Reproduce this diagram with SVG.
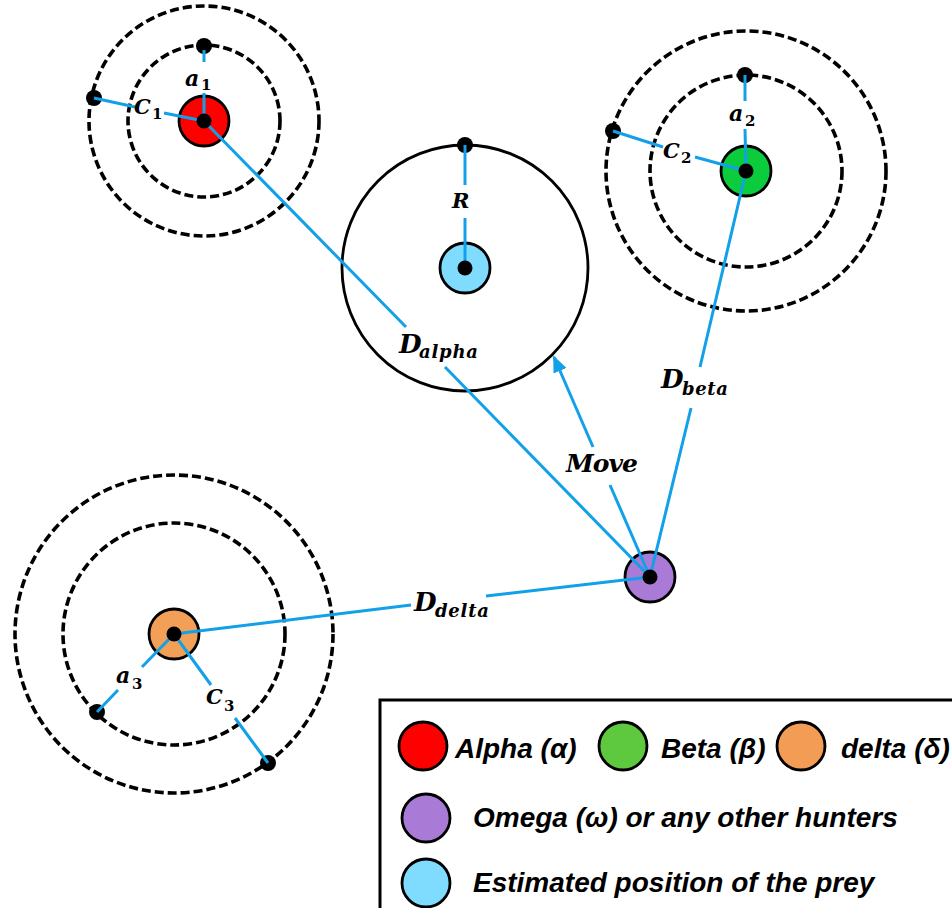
<svg xmlns="http://www.w3.org/2000/svg" width="952" height="908" viewBox="0 0 952 908">
<defs>
<style>
.dash{fill:none;stroke:#000;stroke-width:3.6;stroke-dasharray:9 4}
.ring{fill:none;stroke:#000;stroke-width:2.8}
.body{stroke:#000;stroke-width:2.8}
.pin{fill:#000}
.ln{stroke:#12a0e8;stroke-width:3;fill:none}
.m{font-family:"DejaVu Serif","Liberation Serif",serif;font-weight:bold;font-style:italic;fill:#000}
.n{font-family:"DejaVu Serif","Liberation Serif",serif;font-weight:bold;font-style:normal}
.lg{font-family:"Liberation Sans",Arial,sans-serif;font-weight:bold;font-style:italic;font-size:28px;fill:#000}
</style>
<marker id="ah" markerUnits="userSpaceOnUse" markerWidth="18" markerHeight="14" refX="15" refY="7" orient="auto">
<path d="M0,0 L17,7 L0,14 z" fill="#12a0e8"/>
</marker>
</defs>
<rect width="952" height="908" fill="#fff"/>

<g id="alpha">
<circle class="dash" cx="204" cy="121" r="115"/>
<circle class="dash" cx="204" cy="121" r="76"/>
<circle class="body" cx="204" cy="121" r="25" fill="#ff0000"/>
<circle class="pin" cx="204" cy="46" r="8"/>
<circle class="pin" cx="94" cy="98" r="8"/>
</g>

<g id="beta">
<circle class="dash" cx="746" cy="171" r="140"/>
<circle class="dash" cx="746" cy="171" r="96"/>
<circle class="body" cx="746" cy="171" r="25" fill="#0bcc3c"/>
<circle class="pin" cx="745" cy="75" r="8"/>
<circle class="pin" cx="613" cy="131" r="8"/>
</g>

<g id="prey">
<circle class="ring" cx="465" cy="268" r="123"/>
<circle class="body" cx="465" cy="268" r="25" fill="#7fdcff"/>
<circle class="pin" cx="465" cy="145" r="8"/>
</g>

<g id="delta">
<circle class="dash" cx="174" cy="634" r="159"/>
<circle class="dash" cx="174" cy="634" r="111"/>
<circle class="body" cx="174" cy="634" r="25" fill="#f2a057"/>
<circle class="pin" cx="97" cy="712" r="8"/>
<circle class="pin" cx="268" cy="763" r="8"/>
</g>

<g id="omega">
<circle class="body" cx="650" cy="577" r="25" fill="#a97bd6"/>
</g>

<g id="connectors">
<line class="ln" x1="204" y1="50" x2="204" y2="62"/>
<line class="ln" x1="204" y1="93" x2="204" y2="121"/>
<line class="ln" x1="94" y1="98" x2="135" y2="107"/>
<line class="ln" x1="164" y1="113" x2="204" y2="121"/>
<line class="ln" x1="745" y1="75" x2="745" y2="101"/>
<line class="ln" x1="745" y1="129" x2="746" y2="171"/>
<line class="ln" x1="613" y1="131" x2="663" y2="147"/>
<line class="ln" x1="695" y1="157" x2="746" y2="171"/>
<line class="ln" x1="465" y1="145" x2="465" y2="185"/>
<line class="ln" x1="465" y1="218" x2="465" y2="268"/>
<line class="ln" x1="174" y1="634" x2="142" y2="667"/>
<line class="ln" x1="118" y1="690" x2="97" y2="712"/>
<line class="ln" x1="174" y1="634" x2="211" y2="685"/>
<line class="ln" x1="235" y1="718" x2="268" y2="763"/>
<line class="ln" x1="204" y1="121" x2="406" y2="327"/>
<line class="ln" x1="445" y1="367" x2="650" y2="577"/>
<line class="ln" x1="746" y1="171" x2="700" y2="367"/>
<line class="ln" x1="691" y1="408" x2="650" y2="577"/>
<line class="ln" x1="174" y1="634" x2="411" y2="605"/>
<line class="ln" x1="486" y1="596" x2="650" y2="577"/>
<line class="ln" x1="650" y1="577" x2="610" y2="485"/>
<line class="ln" x1="593" y1="447" x2="554" y2="357" marker-end="url(#ah)"/>
</g>

<g id="hubs">
<circle class="pin" cx="204" cy="121" r="7.5"/>
<circle class="pin" cx="746" cy="171" r="7.5"/>
<circle class="pin" cx="465" cy="268" r="7.5"/>
<circle class="pin" cx="174" cy="634" r="7.5"/>
<circle class="pin" cx="650" cy="577" r="7.5"/>
</g>

<g id="labels">
<text class="m" font-size="22"><tspan x="185" y="86">a</tspan><tspan class="n" x="201" y="90" font-size="15">1</tspan></text>
<text class="m" font-size="21"><tspan x="134" y="114">C</tspan><tspan class="n" x="152" y="119" font-size="15">1</tspan></text>
<text class="m" font-size="22"><tspan x="729" y="121">a</tspan><tspan class="n" x="745" y="126" font-size="15">2</tspan></text>
<text class="m" font-size="21"><tspan x="663" y="158">C</tspan><tspan class="n" x="681" y="163" font-size="15">2</tspan></text>
<text class="m" font-size="22"><tspan x="116" y="683">a</tspan><tspan class="n" x="132" y="689" font-size="15">3</tspan></text>
<text class="m" font-size="21"><tspan x="206" y="704">C</tspan><tspan class="n" x="224" y="711" font-size="15">3</tspan></text>
<text class="m" font-size="21" x="452" y="208">R</text>
<text class="m" font-size="26"><tspan x="399" y="353">D</tspan><tspan x="419" y="358" font-size="18" textLength="59">alpha</tspan></text>
<text class="m" font-size="26"><tspan x="661" y="388">D</tspan><tspan x="682" y="395" font-size="18" textLength="46">beta</tspan></text>
<text class="m" font-size="26"><tspan x="414" y="611">D</tspan><tspan x="435" y="617" font-size="18" textLength="54">delta</tspan></text>
<text class="m" font-size="25" x="566" y="472" textLength="72">Move</text>
</g>

<g id="legend">
<rect x="380" y="700" width="600" height="240" fill="#fff" stroke="#000" stroke-width="3"/>
<circle class="body" cx="423" cy="746" r="24" fill="#ff0000"/>
<text class="lg" x="455" y="758">Alpha (α)</text>
<circle class="body" cx="623" cy="746" r="24" fill="#5ec83e"/>
<text class="lg" x="661" y="758">Beta (β)</text>
<circle class="body" cx="801" cy="746" r="24" fill="#f39c56"/>
<text class="lg" x="841" y="758">delta (δ)</text>
<circle class="body" cx="426" cy="818" r="24" fill="#a97bd6"/>
<text class="lg" x="473" y="827">Omega (ω) or any other hunters</text>
<circle class="body" cx="426" cy="883" r="24" fill="#7fdcff"/>
<text class="lg" x="473" y="892">Estimated position of the prey</text>
</g>
</svg>
